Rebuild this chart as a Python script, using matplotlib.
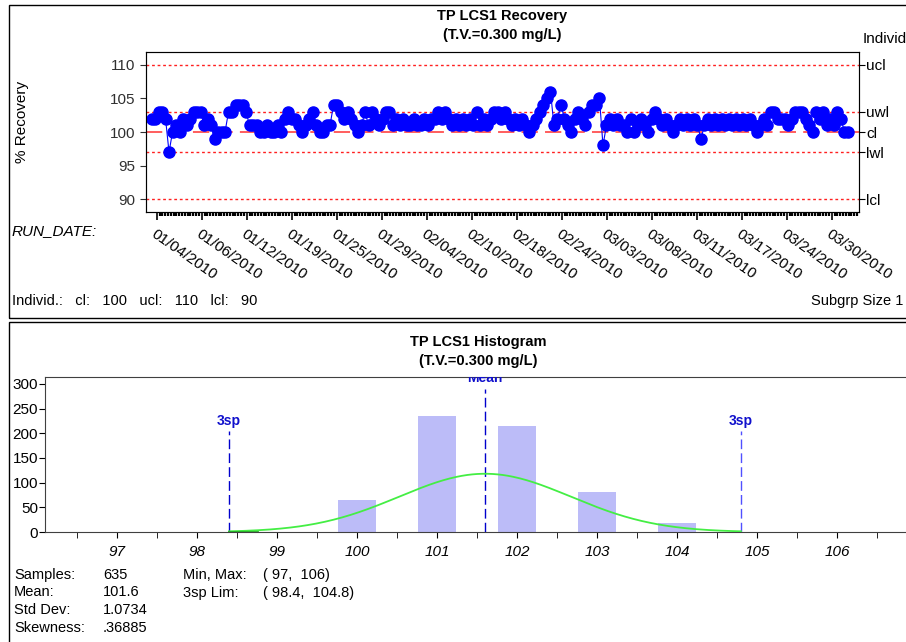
import numpy as np
import matplotlib.pyplot as plt
from matplotlib.patches import Rectangle

plt.rcParams['font.family'] = ['Liberation Sans', 'DejaVu Sans']

# run chart values (% recovery), read left to right off the chart
recovery = [
    102, 102, 103, 103, 102, 97, 100, 101, 100, 102,
    101, 102, 103, 103, 103, 101, 102, 101, 99, 100,
    100, 100, 103, 103, 104, 104, 104, 103, 101, 101,
    101, 100, 100, 101, 100, 100, 101, 100, 102, 103,
    102, 102, 101, 100, 101, 102, 103, 101, 100, 100,
    101, 101, 104, 104, 103, 102, 103, 102, 101, 100,
    101, 103, 101, 103, 102, 101, 102, 103, 103, 101,
    102, 101, 102, 101, 101, 102, 101, 101, 102, 101,
    102, 102, 103, 102, 103, 102, 101, 102, 101, 102,
    101, 102, 101, 103, 101, 102, 101, 102, 103, 103,
    102, 103, 102, 101, 102, 101, 102, 101, 100, 101,
    102, 103, 104, 105, 106, 101, 102, 104, 102, 101,
    100, 102, 103, 102, 101, 103, 104, 104, 105, 98,
    101, 102, 101, 102, 101, 101, 100, 102, 100, 101,
    102, 101, 100, 102, 103, 102, 101, 102, 101, 100,
    101, 102, 101, 102, 101, 102, 101, 99, 101, 102,
    101, 102, 101, 102, 101, 102, 101, 102, 101, 102,
    101, 102, 101, 100, 101, 102, 101, 103, 103, 102,
    102, 102, 101, 102, 103, 103, 103, 102, 101, 100,
    103, 102, 103, 101, 102, 101, 103, 102, 100, 100,
]
date_labels = ['01/04/2010', '01/06/2010', '01/12/2010', '01/19/2010',
               '01/25/2010', '01/29/2010', '02/04/2010', '02/10/2010',
               '02/18/2010', '02/24/2010', '03/03/2010', '03/08/2010',
               '03/11/2010', '03/17/2010', '03/24/2010', '03/30/2010']
limit_values = [110, 103, 100, 97, 90]
limit_names = ['ucl', 'uwl', 'cl', 'lwl', 'lcl']

# histogram
hist_bins = [100, 101, 102, 103, 104]
hist_counts = [65, 235, 215, 81, 18]
n_samples = 635
mean_val = 101.6
std_dev = 1.0734
lim_lo, lim_hi = 98.4, 104.8

W, H = 906, 642


def fx(x):
    return x / W


def fy(y):
    return 1 - y / H


fig = plt.figure(figsize=(9.06, 6.42), dpi=100)

# panel frames
fig.add_artist(Rectangle((fx(9), fy(318)), 1.0, (318 - 5) / H, transform=fig.transFigure,
                         fill=False, lw=1, ec='black'))
fig.add_artist(Rectangle((fx(9), -0.05), 1.0, fy(322) + 0.05, transform=fig.transFigure,
                         fill=False, lw=1, ec='black'))

# ---- run chart ----
ax = fig.add_axes([fx(146), fy(212), (859 - 146) / W, (212 - 52) / H])
x_run = np.linspace(0, 630, len(recovery))
for v, name in zip(limit_values, limit_names):
    if name == 'cl':
        ax.axhline(v, color='#ff5050', lw=1.3, dashes=(9, 4), zorder=1)
    else:
        ax.axhline(v, color='#ff2020', lw=1.0, dashes=(2, 2), zorder=1)
ax.plot(x_run, recovery, '-', color='#0000ff', lw=0.8, marker='o', ms=8,
        mfc='#0000ff', mec='#0000ff', zorder=3)
ax.set_xlim(-5, 640)
ax.set_ylim(88.1, 111.9)
ax.set_yticks([90, 95, 100, 105, 110])
ax.tick_params(axis='y', labelsize=11, length=4, colors='#303030')
major = np.linspace(4.7, 615.3, 16)
ax.set_xticks(major)
ax.set_xticks(np.arange(major[0], 640, (major[1] - major[0]) / 16), minor=True)
ax.set_xticklabels(date_labels, rotation=-35, ha='left', va='top',
                   rotation_mode='anchor', fontsize=11)
ax.tick_params(axis='x', which='major', length=6, width=1.2, pad=5)
ax.tick_params(axis='x', which='minor', length=3, width=1.6)
for s in ax.spines.values():
    s.set_color('#505050')

ax2 = ax.twinx()
ax2.set_ylim(ax.get_ylim())
ax2.set_yticks(limit_values)
ax2.set_yticklabels(limit_names, fontsize=11)
ax2.tick_params(axis='y', length=4, pad=1)

fig.text(fx(502), fy(16), 'TP LCS1 Recovery', ha='center', va='center',
         fontsize=10.5, fontweight='bold')
fig.text(fx(502), fy(35), '(T.V.=0.300 mg/L)', ha='center', va='center',
         fontsize=10.5, fontweight='bold')
fig.text(fx(863), fy(39), 'Individ', ha='left', va='center', fontsize=11)
fig.text(fx(22), fy(122), '% Recovery', rotation=90, ha='center', va='center', fontsize=11)
fig.text(fx(12), fy(231), 'RUN_DATE:', style='italic', ha='left', va='center', fontsize=11)
fig.text(fx(12), fy(301), 'Individ.:   cl:   100   ucl:   110   lcl:   90',
         ha='left', va='center', fontsize=10.5)
fig.text(fx(903), fy(301), 'Subgrp Size 1', ha='right', va='center', fontsize=10.5)

# ---- histogram ----
hx = fig.add_axes([fx(45), fy(532), (917 - 45) / W, (532 - 377) / H])
hx.bar(hist_bins, hist_counts, width=0.47, color='#bcbcf8', zorder=1)
xc = np.linspace(lim_lo, lim_hi, 300)
yc = n_samples * 0.5 * np.exp(-0.5 * ((xc - mean_val) / std_dev) ** 2) / (std_dev * np.sqrt(2 * np.pi))
hx.plot(xc, yc, color='#44ee44', lw=1.3, zorder=3)
hx.plot([lim_lo, lim_lo + 0.35], [0.6, 0.6], color='#22aa22', lw=2, zorder=3)
hx.plot([mean_val, mean_val], [0, 290], color='#0000cc', lw=1.0, dashes=(7, 3), zorder=2)
hx.plot([lim_lo, lim_lo], [0, 205], color='#0000cc', lw=1.0, dashes=(7, 3), zorder=2)
hx.plot([lim_hi, lim_hi], [0, 205], color='#5050ff', lw=1.0, dashes=(7, 3), zorder=2)
hx.text(mean_val, 312, 'Mean', color='#1010cc', ha='center', va='center',
        fontsize=10, fontweight='bold', clip_on=True)
hx.text(lim_lo, 225, '3sp', color='#1010cc', ha='center', va='center',
        fontsize=10, fontweight='bold')
hx.text(lim_hi, 225, '3sp', color='#1010cc', ha='center', va='center',
        fontsize=10, fontweight='bold')
hx.set_xlim(96.1, 107)
hx.set_ylim(0, 314)
hx.set_xticks(range(97, 107))
hx.set_xticklabels([str(b) for b in range(97, 107)], style='italic', fontsize=11)
hx.set_xticks(np.arange(96.5, 107, 1.0), minor=True)
hx.set_yticks(range(0, 301, 50))
hx.tick_params(axis='y', labelsize=11, length=4, pad=1)
hx.tick_params(axis='x', which='both', length=4, pad=5)
for s in hx.spines.values():
    s.set_color('#404040')

fig.text(fx(478), fy(342), 'TP LCS1 Histogram', ha='center', va='center',
         fontsize=10.5, fontweight='bold')
fig.text(fx(478), fy(361), '(T.V.=0.300 mg/L)', ha='center', va='center',
         fontsize=10.5, fontweight='bold')

stats_left = [('Samples:', '%d' % n_samples), ('Mean:', '%.1f' % mean_val),
              ('Std Dev:', '%.4f' % std_dev), ('Skewness:', '.36885')]
for i, (k, v) in enumerate(stats_left):
    yy = fy(575 + i * 17.5)
    fig.text(fx(14), yy, k, ha='left', va='center', fontsize=10.5)
    fig.text(fx(103), yy, v, ha='left', va='center', fontsize=10.5)
fig.text(fx(183), fy(575), 'Min, Max:', ha='left', va='center', fontsize=10.5)
fig.text(fx(263), fy(575), '( 97,  106)', ha='left', va='center', fontsize=10.5)
fig.text(fx(183), fy(592.5), '3sp Lim:', ha='left', va='center', fontsize=10.5)
fig.text(fx(263), fy(592.5), '( %.1f,  %.1f)' % (lim_lo, lim_hi), ha='left', va='center', fontsize=10.5)

fig.savefig('out.png', dpi=100)
